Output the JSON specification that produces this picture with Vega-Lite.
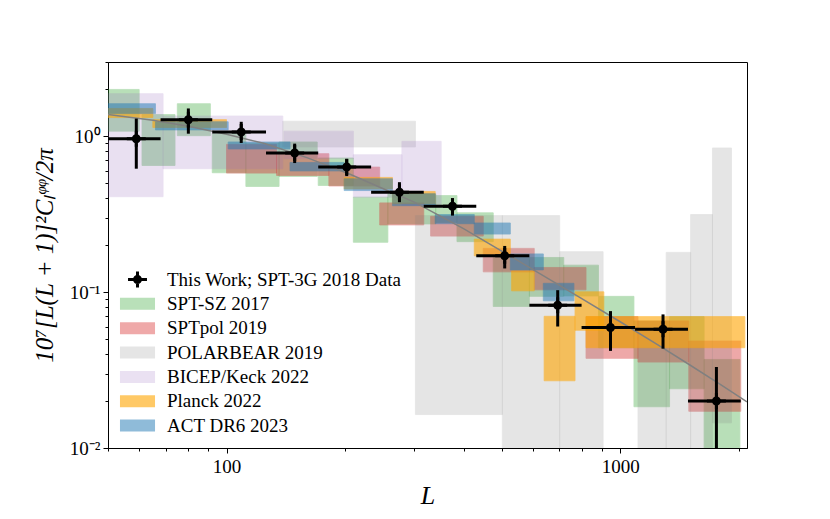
{
  "$schema": "https://vega.github.io/schema/vega-lite/v6.json",
  "width": 639,
  "height": 386,
  "autosize": "none",
  "padding": {"left": 108, "top": 62, "right": 83, "bottom": 71},
  "background": "white",
  "config": {
    "view": {"stroke": "black", "strokeWidth": 1},
    "axis": {
      "grid": false, "domainColor": "black", "tickColor": "black",
      "labelColor": "black", "titleColor": "black",
      "labelFont": "Liberation Serif", "titleFont": "Liberation Serif",
      "labelFontSize": 19, "titleFontSize": 25, "titleFontWeight": "normal",
      "labelFlush": false, "labelOverlap": false
    },
    "legend": {
      "orient": "none", "legendX": 20, "legendY": 208, "padding": 0,
      "symbolSize": 144, "symbolStrokeWidth": 0, "labelOffset": 20,
      "labelFont": "Liberation Serif", "labelFontSize": 19, "labelColor": "black",
      "rowPadding": 4.35, "labelLimit": 400
    }
  },
  "datasets": {
    "boxes": [
      {"exp": "SPT-SZ 2017", "l0": 50, "l1": 60, "y0": 1.08, "y1": 2.0},
      {"exp": "SPT-SZ 2017", "l0": 61, "l1": 74, "y0": 0.65, "y1": 1.38},
      {"exp": "SPT-SZ 2017", "l0": 75, "l1": 91, "y0": 1.01, "y1": 1.62},
      {"exp": "SPT-SZ 2017", "l0": 92, "l1": 112, "y0": 0.584, "y1": 1.04},
      {"exp": "SPT-SZ 2017", "l0": 112, "l1": 136, "y0": 0.477, "y1": 0.906},
      {"exp": "SPT-SZ 2017", "l0": 136, "l1": 170, "y0": 0.553, "y1": 0.92},
      {"exp": "SPT-SZ 2017", "l0": 171, "l1": 210, "y0": 0.484, "y1": 0.726},
      {"exp": "SPT-SZ 2017", "l0": 210, "l1": 257, "y0": 0.209, "y1": 0.407},
      {"exp": "SPT-SZ 2017", "l0": 257, "l1": 340, "y0": 0.274, "y1": 0.428},
      {"exp": "SPT-SZ 2017", "l0": 340, "l1": 385, "y0": 0.28, "y1": 0.417},
      {"exp": "SPT-SZ 2017", "l0": 385, "l1": 476, "y0": 0.211, "y1": 0.323},
      {"exp": "SPT-SZ 2017", "l0": 476, "l1": 588, "y0": 0.081, "y1": 0.167},
      {"exp": "SPT-SZ 2017", "l0": 588, "l1": 719, "y0": 0.094, "y1": 0.167},
      {"exp": "SPT-SZ 2017", "l0": 719, "l1": 881, "y0": 0.0946, "y1": 0.149},
      {"exp": "SPT-SZ 2017", "l0": 881, "l1": 1084, "y0": 0.044, "y1": 0.094},
      {"exp": "SPT-SZ 2017", "l0": 1084, "l1": 1335, "y0": 0.0184, "y1": 0.0654},
      {"exp": "SPT-SZ 2017", "l0": 1335, "l1": 1634, "y0": 0.024, "y1": 0.0697},
      {"exp": "SPT-SZ 2017", "l0": 1634, "l1": 2015, "y0": 0.005, "y1": 0.037},
      {"exp": "SPTpol 2019", "l0": 100, "l1": 134, "y0": 0.581, "y1": 0.888},
      {"exp": "SPTpol 2019", "l0": 134, "l1": 182, "y0": 0.561, "y1": 0.774},
      {"exp": "SPTpol 2019", "l0": 182, "l1": 245, "y0": 0.48, "y1": 0.635},
      {"exp": "SPTpol 2019", "l0": 245, "l1": 317, "y0": 0.27, "y1": 0.374},
      {"exp": "SPTpol 2019", "l0": 330, "l1": 449, "y0": 0.229, "y1": 0.307},
      {"exp": "SPTpol 2019", "l0": 449, "l1": 605, "y0": 0.135, "y1": 0.191},
      {"exp": "SPTpol 2019", "l0": 605, "l1": 819, "y0": 0.1035, "y1": 0.144},
      {"exp": "SPTpol 2019", "l0": 819, "l1": 1110, "y0": 0.0376, "y1": 0.0697},
      {"exp": "SPTpol 2019", "l0": 1110, "l1": 1494, "y0": 0.0356, "y1": 0.0654},
      {"exp": "SPTpol 2019", "l0": 1494, "l1": 2025, "y0": 0.0172, "y1": 0.0486},
      {"exp": "POLARBEAR 2019", "l0": 139, "l1": 302, "y0": 0.855, "y1": 1.25},
      {"exp": "POLARBEAR 2019", "l0": 302, "l1": 502, "y0": 0.0164, "y1": 0.31},
      {"exp": "POLARBEAR 2019", "l0": 502, "l1": 702, "y0": 0.005, "y1": 0.31},
      {"exp": "POLARBEAR 2019", "l0": 702, "l1": 905, "y0": 0.005, "y1": 0.182},
      {"exp": "POLARBEAR 2019", "l0": 1110, "l1": 1309, "y0": 0.005, "y1": 0.065},
      {"exp": "POLARBEAR 2019", "l0": 1309, "l1": 1510, "y0": 0.005, "y1": 0.18},
      {"exp": "POLARBEAR 2019", "l0": 1510, "l1": 1716, "y0": 0.005, "y1": 0.315},
      {"exp": "POLARBEAR 2019", "l0": 1716, "l1": 1918, "y0": 0.0145, "y1": 0.842},
      {"exp": "BICEP/Keck 2022", "l0": 50, "l1": 69, "y0": 0.41, "y1": 1.88},
      {"exp": "BICEP/Keck 2022", "l0": 69, "l1": 139, "y0": 0.62, "y1": 1.35},
      {"exp": "BICEP/Keck 2022", "l0": 140, "l1": 210, "y0": 0.719, "y1": 1.08},
      {"exp": "BICEP/Keck 2022", "l0": 210, "l1": 279, "y0": 0.407, "y1": 0.762},
      {"exp": "BICEP/Keck 2022", "l0": 279, "l1": 351, "y0": 0.36, "y1": 0.929},
      {"exp": "Planck 2022", "l0": 50, "l1": 65, "y0": 1.32, "y1": 1.51},
      {"exp": "Planck 2022", "l0": 65, "l1": 100, "y0": 1.14, "y1": 1.28},
      {"exp": "Planck 2022", "l0": 199, "l1": 264, "y0": 0.46, "y1": 0.545},
      {"exp": "Planck 2022", "l0": 264, "l1": 339, "y0": 0.37, "y1": 0.443},
      {"exp": "Planck 2022", "l0": 426, "l1": 526, "y0": 0.171, "y1": 0.219},
      {"exp": "Planck 2022", "l0": 530, "l1": 605, "y0": 0.102, "y1": 0.137},
      {"exp": "Planck 2022", "l0": 641, "l1": 768, "y0": 0.027, "y1": 0.07},
      {"exp": "Planck 2022", "l0": 768, "l1": 909, "y0": 0.057, "y1": 0.1005},
      {"exp": "Planck 2022", "l0": 819, "l1": 2074, "y0": 0.044, "y1": 0.0697},
      {"exp": "ACT DR6 2023", "l0": 50, "l1": 66, "y0": 1.4, "y1": 1.62},
      {"exp": "ACT DR6 2023", "l0": 66, "l1": 101, "y0": 1.1, "y1": 1.24},
      {"exp": "ACT DR6 2023", "l0": 101, "l1": 145, "y0": 0.83, "y1": 0.92},
      {"exp": "ACT DR6 2023", "l0": 145, "l1": 199, "y0": 0.6, "y1": 0.68},
      {"exp": "ACT DR6 2023", "l0": 199, "l1": 264, "y0": 0.449, "y1": 0.534},
      {"exp": "ACT DR6 2023", "l0": 264, "l1": 339, "y0": 0.359, "y1": 0.428},
      {"exp": "ACT DR6 2023", "l0": 339, "l1": 426, "y0": 0.275, "y1": 0.315},
      {"exp": "ACT DR6 2023", "l0": 426, "l1": 526, "y0": 0.236, "y1": 0.278},
      {"exp": "ACT DR6 2023", "l0": 526, "l1": 638, "y0": 0.139, "y1": 0.176},
      {"exp": "ACT DR6 2023", "l0": 638, "l1": 763, "y0": 0.088, "y1": 0.114}
    ],
    "theory": [
      {"L": 50, "v": 1.38}, {"L": 65, "v": 1.27}, {"L": 80, "v": 1.16},
      {"L": 100, "v": 1.03}, {"L": 125, "v": 0.9}, {"L": 160, "v": 0.73},
      {"L": 206, "v": 0.571}, {"L": 246, "v": 0.47}, {"L": 300, "v": 0.378},
      {"L": 400, "v": 0.256}, {"L": 509, "v": 0.179}, {"L": 650, "v": 0.124},
      {"L": 795, "v": 0.0916}, {"L": 1000, "v": 0.0646}, {"L": 1250, "v": 0.0457},
      {"L": 1490, "v": 0.0346}, {"L": 1800, "v": 0.0255}, {"L": 2100, "v": 0.0198}
    ],
    "points": [
      {"exp": "This Work; SPT-3G 2018 Data", "L": 59, "lo": 50, "hi": 68, "v": 0.966, "vlo": 0.62, "vhi": 1.3},
      {"exp": "This Work; SPT-3G 2018 Data", "L": 80, "lo": 68, "hi": 92, "v": 1.28, "vlo": 1.04, "vhi": 1.51},
      {"exp": "This Work; SPT-3G 2018 Data", "L": 109, "lo": 92, "hi": 126, "v": 1.067, "vlo": 0.907, "vhi": 1.24},
      {"exp": "This Work; SPT-3G 2018 Data", "L": 149, "lo": 126, "hi": 171, "v": 0.782, "vlo": 0.674, "vhi": 0.898},
      {"exp": "This Work; SPT-3G 2018 Data", "L": 202, "lo": 171, "hi": 233, "v": 0.635, "vlo": 0.556, "vhi": 0.718},
      {"exp": "This Work; SPT-3G 2018 Data", "L": 275, "lo": 233, "hi": 317, "v": 0.438, "vlo": 0.378, "vhi": 0.508},
      {"exp": "This Work; SPT-3G 2018 Data", "L": 375, "lo": 317, "hi": 431, "v": 0.356, "vlo": 0.31, "vhi": 0.401},
      {"exp": "This Work; SPT-3G 2018 Data", "L": 509, "lo": 431, "hi": 588, "v": 0.171, "vlo": 0.142, "vhi": 0.198},
      {"exp": "This Work; SPT-3G 2018 Data", "L": 694, "lo": 588, "hi": 798, "v": 0.0825, "vlo": 0.0602, "vhi": 0.103},
      {"exp": "This Work; SPT-3G 2018 Data", "L": 945, "lo": 798, "hi": 1091, "v": 0.0593, "vlo": 0.042, "vhi": 0.0756},
      {"exp": "This Work; SPT-3G 2018 Data", "L": 1285, "lo": 1091, "hi": 1487, "v": 0.0578, "vlo": 0.0434, "vhi": 0.072},
      {"exp": "This Work; SPT-3G 2018 Data", "L": 1756, "lo": 1487, "hi": 2025, "v": 0.02, "vlo": 0.005, "vhi": 0.0331}
    ]
  },
  "layer": [
    {
      "data": {"name": "boxes"},
      "mark": {"type": "rect", "clip": true, "strokeWidth": 0.8},
      "encoding": {
        "x": {
          "field": "l0", "type": "quantitative",
          "scale": {"type": "log", "domain": [50, 2100], "nice": false},
          "axis": {
            "title": "L", "titleFontStyle": "italic", "titleFontSize": 26,
            "values": [50, 60, 70, 80, 90, 100, 200, 300, 400, 500, 600, 700, 800, 900, 1000, 2000],
            "format": "d",
            "labelExpr": "datum.value == 100 || datum.value == 1000 ? datum.label : ''",
            "tickSize": {"condition": {"test": "datum.value == 100 || datum.value == 1000", "value": 5}, "value": 3},
            "labelPadding": 4, "titlePadding": 6
          }
        },
        "x2": {"field": "l1"},
        "y": {
          "field": "y0", "type": "quantitative",
          "scale": {"type": "log", "domain": [0.01, 3], "nice": false},
          "axis": {
            "title": "10⁷[L(L + 1)]²Cₗᵠᵠ/2π", "titleFontStyle": "italic",
            "values": [0.01, 0.02, 0.03, 0.04, 0.05, 0.06, 0.07, 0.08, 0.09, 0.1, 0.2, 0.3, 0.4, 0.5, 0.6, 0.7, 0.8, 0.9, 1, 2, 3],
            "labelExpr": "datum.value == 1 ? '10⁰' : datum.value == 0.1 ? '10⁻¹' : datum.value == 0.01 ? '10⁻²' : ''",
            "tickSize": {"condition": {"test": "datum.value == 0.01 || datum.value == 0.1 || datum.value == 1", "value": 5}, "value": 3},
            "labelPadding": 3, "titlePadding": 12
          }
        },
        "y2": {"field": "y1"},
        "color": {
          "field": "exp", "type": "nominal",
          "scale": {
            "domain": ["This Work; SPT-3G 2018 Data", "SPT-SZ 2017", "SPTpol 2019", "POLARBEAR 2019", "BICEP/Keck 2022", "Planck 2022", "ACT DR6 2023"],
            "range": ["#000000", "#2ca02c", "#d62728", "#7f7f7f", "#9467bd", "#ffa500", "#1f77b4"]
          },
          "legend": {"title": null}
        },
        "stroke": {
          "field": "exp", "type": "nominal",
          "scale": {
            "domain": ["This Work; SPT-3G 2018 Data", "SPT-SZ 2017", "SPTpol 2019", "POLARBEAR 2019", "BICEP/Keck 2022", "Planck 2022", "ACT DR6 2023"],
            "range": ["#000000", "#2ca02c", "#d62728", "#7f7f7f", "#9467bd", "#ffa500", "#1f77b4"]
          },
          "legend": null
        },
        "opacity": {
          "field": "exp", "type": "nominal",
          "scale": {
            "type": "ordinal",
            "domain": ["This Work; SPT-3G 2018 Data", "SPT-SZ 2017", "SPTpol 2019", "POLARBEAR 2019", "BICEP/Keck 2022", "Planck 2022", "ACT DR6 2023"],
            "range": [1, 0.33, 0.4, 0.2, 0.2, 0.6, 0.5]
          },
          "legend": {"title": null}
        }
      }
    },
    {
      "data": {"name": "theory"},
      "mark": {"type": "line", "color": "#808080", "strokeWidth": 1.5, "clip": true},
      "encoding": {
        "x": {"field": "L", "type": "quantitative", "scale": {"type": "log", "domain": [50, 2100], "nice": false}},
        "y": {"field": "v", "type": "quantitative", "scale": {"type": "log", "domain": [0.01, 3], "nice": false}}
      }
    },
    {
      "data": {"name": "points"},
      "mark": {"type": "rule", "color": "black", "strokeWidth": 3, "clip": true},
      "encoding": {
        "x": {"field": "lo", "type": "quantitative", "scale": {"type": "log", "domain": [50, 2100], "nice": false}},
        "x2": {"field": "hi"},
        "y": {"field": "v", "type": "quantitative", "scale": {"type": "log", "domain": [0.01, 3], "nice": false}}
      }
    },
    {
      "data": {"name": "points"},
      "mark": {"type": "rule", "color": "black", "strokeWidth": 3, "clip": true},
      "encoding": {
        "x": {"field": "L", "type": "quantitative", "scale": {"type": "log", "domain": [50, 2100], "nice": false}},
        "y": {"field": "vlo", "type": "quantitative", "scale": {"type": "log", "domain": [0.01, 3], "nice": false}},
        "y2": {"field": "vhi"}
      }
    },
    {
      "data": {"name": "points"},
      "mark": {"type": "point", "filled": true, "size": 144, "opacity": 1, "strokeWidth": 0},
      "encoding": {
        "x": {"field": "L", "type": "quantitative", "scale": {"type": "log", "domain": [50, 2100], "nice": false}},
        "y": {"field": "v", "type": "quantitative", "scale": {"type": "log", "domain": [0.01, 3], "nice": false}},
        "color": {
          "field": "exp", "type": "nominal",
          "scale": {
            "domain": ["This Work; SPT-3G 2018 Data", "SPT-SZ 2017", "SPTpol 2019", "POLARBEAR 2019", "BICEP/Keck 2022", "Planck 2022", "ACT DR6 2023"],
            "range": ["#000000", "#2ca02c", "#d62728", "#7f7f7f", "#9467bd", "#ffa500", "#1f77b4"]
          },
          "legend": {"title": null}
        },
        "shape": {
          "field": "exp", "type": "nominal",
          "scale": {
            "domain": ["This Work; SPT-3G 2018 Data", "SPT-SZ 2017", "SPTpol 2019", "POLARBEAR 2019", "BICEP/Keck 2022", "Planck 2022", "ACT DR6 2023"],
            "range": [
              "M-1.58,-0.25H1.58V0.25H-1.58Z M-0.25,-1.33H0.25V1.33H-0.25Z M0,-0.75A0.75,0.75 0 1 1 0,0.75A0.75,0.75 0 1 1 0,-0.75Z",
              "M-2.92,-1H2.92V1H-2.92Z",
              "M-2.92,-1H2.92V1H-2.92Z",
              "M-2.92,-1H2.92V1H-2.92Z",
              "M-2.92,-1H2.92V1H-2.92Z",
              "M-2.92,-1H2.92V1H-2.92Z",
              "M-2.92,-1H2.92V1H-2.92Z"
            ]
          },
          "legend": {"title": null}
        }
      }
    }
  ]
}
